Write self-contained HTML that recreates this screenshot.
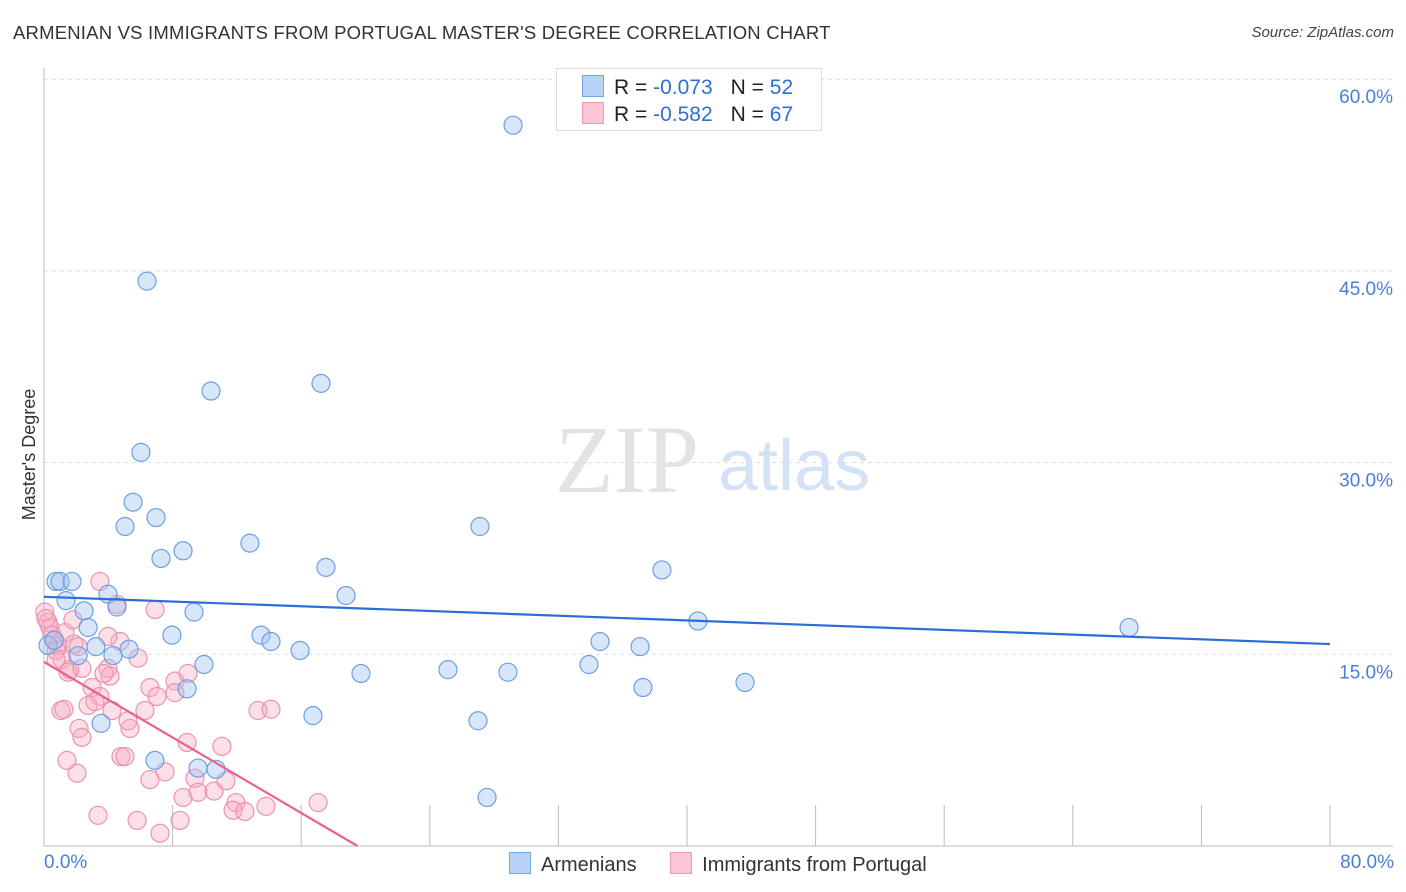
<!DOCTYPE html>
<html><head><meta charset="utf-8"><style>
body{margin:0;background:#fff;font-family:"Liberation Sans",sans-serif;}
#wrap{position:relative;width:1406px;height:892px;overflow:hidden;}
.t{position:absolute;white-space:nowrap;}
</style></head><body>
<div id="wrap">
<div class="t" style="left:13px;top:22px;font-size:18.5px;color:#333;letter-spacing:0.2px;">ARMENIAN VS IMMIGRANTS FROM PORTUGAL MASTER'S DEGREE CORRELATION CHART</div>
<div class="t" style="right:12px;top:24px;font-size:15px;color:#444;font-style:italic;">Source: ZipAtlas.com</div>
<svg id="svg" width="1406" height="892" style="position:absolute;left:0;top:0"></svg>
</div>
<script>
const blueX=[29.18,6.41,17.23,10.39,6.03,5.54,5.04,6.97,27.12,12.81,8.65,7.28,17.54,38.44,0.75,1.0,1.74,3.98,18.79,1.37,4.54,2.49,9.33,40.68,67.5,2.74,7.96,13.5,14.12,34.59,37.08,3.23,5.29,15.93,2.12,4.29,9.95,33.9,25.13,19.72,28.86,8.9,37.26,43.61,16.73,3.55,27.0,6.9,9.58,10.7,27.56,0.25,0.62];
const blueY=[56.4,44.2,36.2,35.6,30.8,26.9,25.0,25.7,25.0,23.7,23.1,22.5,21.8,21.6,20.7,20.7,20.7,19.7,19.6,19.2,18.7,18.4,18.3,17.6,17.1,17.1,16.5,16.5,16.0,16.0,15.6,15.6,15.4,15.3,14.9,14.9,14.2,14.2,13.8,13.5,13.6,12.3,12.4,12.8,10.2,9.6,9.8,6.7,6.1,6.0,3.8,15.7,16.1];
const pinkX=[0.25,0.37,0.5,0.68,0.87,0.75,1.31,1.12,1.62,1.49,1.87,2.12,3.48,4.54,1.06,1.24,2.18,2.36,2.05,1.43,3.36,4.73,5.85,3.98,4.11,2.99,3.48,2.74,3.17,4.23,5.35,4.79,5.04,6.59,7.03,6.28,6.91,8.15,8.15,8.96,8.9,7.53,6.59,5.79,7.22,8.46,8.65,9.39,9.58,11.07,10.58,11.32,11.94,11.76,12.5,13.81,13.31,14.12,17.05,3.73,2.36,0.75,0.05,0.12,3.98,1.8,5.23];
const pinkY=[17.5,17.1,16.5,16.1,15.7,15.3,16.7,14.6,13.8,13.6,15.8,15.6,20.7,18.9,10.6,10.7,9.2,8.5,5.7,6.7,2.4,16.0,14.7,13.9,13.3,12.4,11.7,11.0,11.3,10.6,9.2,7.0,7.0,12.4,11.7,10.6,18.5,12.9,12.0,13.5,8.1,5.8,5.2,2.0,1.0,2.0,3.8,5.3,4.2,7.8,4.3,5.1,3.4,2.8,2.7,3.1,10.6,10.7,3.4,13.5,13.9,14.6,18.3,17.8,16.4,17.7,9.8];
const blueTrend=[19.5,15.8];
const pinkTrend=[14.4,0,19.5];
const yTicks=[15,30,45,60];
const yTickLabels=["15.0%","30.0%","45.0%","60.0%"];
const xTicks=[0,8,16,24,32,40,48,56,64,72,80];

const L=44,R=1330,B=846;
const sx=v=>L+(v/80)*(R-L);
const sy=v=>B-v*(191.7/15);
const svg=document.getElementById('svg');
const NS='http://www.w3.org/2000/svg';
function mk(tag,attrs,parent){const e=document.createElementNS(NS,tag);for(const k in attrs)e.setAttribute(k,attrs[k]);(parent||svg).appendChild(e);return e;}

yTicks.forEach((v,i)=>{
  const g=mk('line',{x1:L,x2:1393,y1:sy(v),y2:sy(v),stroke:'#ddd','stroke-dasharray':'4,4'});
  
  
  const t=mk('text',{x:1393,y:sy(v)+24,'text-anchor':'end','font-size':19,fill:'#4a7fd6','font-family':'Liberation Sans, sans-serif'});
  t.textContent=yTickLabels[i];
  
  
});
const ax=mk('line',{x1:L,x2:L,y1:68,y2:B,stroke:'#bbb'});


const bx=mk('line',{x1:L,x2:1393,y1:B,y2:B,stroke:'#bbb'});


xTicks.forEach(v=>{
  const t=mk('line',{x1:sx(v),x2:sx(v),y1:805,y2:B,stroke:'#bbb'});
  
  
});
const wm=mk('text',{x:555,y:492,'font-size':96,fill:'#e3e3e3','font-family':'Liberation Serif, serif'});wm.textContent='ZIP';


const wm2=mk('text',{x:718,y:490,'font-size':72,fill:'#d4e2f6','font-family':'Liberation Sans, sans-serif'});wm2.textContent='atlas';



pinkX.forEach((x,i)=>{
  const c=mk('circle',{cx:sx(x),cy:sy(pinkY[i]),r:9,fill:'rgba(246,170,192,0.38)',stroke:'#ec93ae','stroke-width':1.2});
  
  
});
blueX.forEach((x,i)=>{
  const c=mk('circle',{cx:sx(x),cy:sy(blueY[i]),r:9,fill:'rgba(160,196,240,0.42)',stroke:'#6c9fe2','stroke-width':1.2});
  
  
});
const bl=mk('line',{x1:sx(0),y1:sy(blueTrend[0]),x2:sx(80),y2:sy(blueTrend[1]),stroke:'#2a6fd6','stroke-width':2.2});


const pl=mk('line',{x1:sx(0),y1:sy(pinkTrend[0]),x2:sx(pinkTrend[2]),y2:sy(pinkTrend[1]),stroke:'#e8628e','stroke-width':2.2});


</script>
<div class="t" style="left:-36px;top:444px;font-size:18px;color:#333;transform:rotate(-90deg);">Master's Degree</div>
<div class="t" style="left:44px;top:852px;font-size:19px;color:#4a7fd6;">0.0%</div>
<div class="t" style="right:12px;top:852px;font-size:19px;color:#4a7fd6;">80.0%</div>
<div style="position:absolute;left:556px;top:68px;width:264px;height:61px;border:1px solid #ddd;background:#fff;font-size:21px;">
  <div style="position:absolute;left:25px;top:6px;white-space:nowrap;"><span style="display:inline-block;width:20px;height:20px;background:#b8d2f5;border:1px solid #7aa7e3;vertical-align:-3px;"></span><span style="margin-left:10px;color:#222;">R = </span><span style="color:#2f6fd0;">-0.073</span><span style="margin-left:18px;color:#222;">N = </span><span style="color:#2f6fd0;">52</span></div>
  <div style="position:absolute;left:25px;top:33px;white-space:nowrap;"><span style="display:inline-block;width:20px;height:20px;background:#fac5d4;border:1px solid #ee9ab3;vertical-align:-3px;"></span><span style="margin-left:10px;color:#222;">R = </span><span style="color:#2f6fd0;">-0.582</span><span style="margin-left:18px;color:#222;">N = </span><span style="color:#2f6fd0;">67</span></div>
</div>
<div style="position:absolute;left:509px;top:852px;font-size:20px;color:#333;white-space:nowrap;">
  <span><span style="display:inline-block;width:20px;height:20px;background:#b8d2f5;border:1px solid #7aa7e3;vertical-align:-3px;"></span><span style="margin-left:10px;">Armenians</span></span>
  <span style="margin-left:28px;"><span style="display:inline-block;width:20px;height:20px;background:#fac5d4;border:1px solid #ee9ab3;vertical-align:-3px;"></span><span style="margin-left:10px;">Immigrants from Portugal</span></span>
</div>
</body></html>
